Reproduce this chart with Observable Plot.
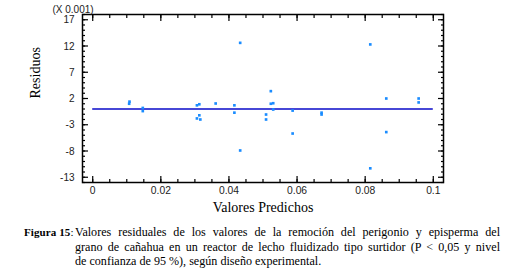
<!DOCTYPE html>
<html>
<head>
<meta charset="utf-8">
<script src="https://cdn.jsdelivr.net/npm/d3@7"></script>
<script src="https://cdn.jsdelivr.net/npm/@observablehq/plot@0.6"></script>
<style>
  body { margin: 0; background: #fff; }
  #wrap { width: 515px; position: relative; }
  .cap { font-family: "Liberation Serif", "Times New Roman", Times, serif; font-size: 12.1px; line-height: 14.6px; color: #000; position: relative; height: 54px; }
  .cap .lab { position: absolute; left: 24px; top: 7px; font-size: 11px; letter-spacing: 0.1px; }
  .cap .txt { position: absolute; left: 75px; top: 7px; width: 425px; }
  .cap .j { text-align: justify; text-align-last: justify; white-space: nowrap; }
  .cap .l { text-align: left; white-space: nowrap; }
</style>
</head>
<body>
<div id="wrap"></div>
<script>
// Predicted values (x) and residuals (y, in units of 0.001)
const predichos = [0.0107, 0.0108, 0.0147, 0.0147, 0.0306, 0.0313, 0.0313, 0.0306, 0.0316, 0.0361,
                   0.0416, 0.0416, 0.0433, 0.0433, 0.0509, 0.0509, 0.0523, 0.0523, 0.0530, 0.0530,
                   0.0587, 0.0587, 0.0672, 0.0672, 0.0815, 0.0815, 0.0862, 0.0862, 0.0957, 0.0957];
const residuos  = [1.0, 1.4, 0.2, -0.4, 0.7, 0.9, -1.2, -1.8, -2.0, 1.05,
                   0.7, -0.7, 12.6, -7.9, -1.05, -2.0, 3.4, 1.0, 1.1, -0.1,
                   -0.3, -4.67, -0.7, -1.05, 12.3, -11.3, 2.0, -4.4, 2.0, 1.25];
const xTicks = [0, 0.02, 0.04, 0.06, 0.08, 0.1];
const yTicks = [-13, -8, -3, 2, 7, 12, 17];
const xDomain = [-0.003, 0.103];
const yDomain = [-14, 18];
const xMinor = d3.range(0, 0.1001, 0.005);
const yMinor = d3.range(-14, 18.01, 1);

const data = predichos.map((x, i) => ({x, y: residuos[i]}));
const sans = "Liberation Sans, Arial, sans-serif";
const serif = "Liberation Serif, Times New Roman, serif";

const chart = Plot.plot({
  width: 515,
  height: 218,
  marginLeft: 82,
  marginRight: 72,
  marginTop: 14,
  marginBottom: 36,
  style: {fontFamily: sans, fontSize: "10px", color: "#222", background: "#fff"},
  x: {domain: xDomain, axis: null},
  y: {domain: yDomain, axis: null},
  marks: [
    // tick labels
    Plot.axisX(xTicks, {anchor: "bottom", tickSize: 0, tickPadding: 4, tickFormat: d => String(d), label: null, fontSize: 10.3, fill: "#222"}),
    Plot.axisY(yTicks, {anchor: "left", tickSize: 0, tickPadding: 8, tickFormat: d => String(d), label: null, fontSize: 10, fill: "#222", dy: 0.5}),
    // inward minor ticks
    Plot.axisX(xMinor, {anchor: "bottom", tickSize: -3, tickFormat: () => "", label: null, stroke: "#000", strokeWidth: 1.2}),
    Plot.axisX(xMinor, {anchor: "top", tickSize: -3, tickFormat: () => "", label: null, stroke: "#000", strokeWidth: 1.2}),
    Plot.axisY(yMinor, {anchor: "left", tickSize: -3, tickFormat: () => "", label: null, stroke: "#000", strokeWidth: 1.2}),
    Plot.axisY(yMinor, {anchor: "right", tickSize: -3, tickFormat: () => "", label: null, stroke: "#000", strokeWidth: 1.2}),
    // inward major ticks
    Plot.axisX(xTicks, {anchor: "bottom", tickSize: -6, tickFormat: () => "", label: null, stroke: "#000", strokeWidth: 1.2}),
    Plot.axisX(xTicks, {anchor: "top", tickSize: -6, tickFormat: () => "", label: null, stroke: "#000", strokeWidth: 1.2}),
    Plot.axisY(yTicks, {anchor: "left", tickSize: -6, tickFormat: () => "", label: null, stroke: "#000", strokeWidth: 1.2}),
    Plot.axisY(yTicks, {anchor: "right", tickSize: -6, tickFormat: () => "", label: null, stroke: "#000", strokeWidth: 1.2}),
    Plot.frame({stroke: "#000", strokeWidth: 1.5}),
    // zero reference line
    Plot.ruleY([0], {x1: xTicks[0], x2: xTicks[xTicks.length - 1], stroke: "#0a0ac8", strokeWidth: 1.5}),
    // residual points
    Plot.dot(data, {x: "x", y: "y", symbol: "square", r: 1.5, fill: "#1a8cff", stroke: null}),
    // axis titles
    Plot.text(["Residuos"], {frameAnchor: "left", dx: -47, rotate: -90, fontFamily: serif, fontSize: 14, fill: "#000"}),
    Plot.text(["Valores Predichos"], {frameAnchor: "bottom", dy: 29, fontFamily: serif, fontSize: 14, fill: "#000"}),
    Plot.text(["(X 0.001)"], {frameAnchor: "top-left", dx: -30, dy: -9, fontSize: 10, fill: "#222"})
  ]
});
document.getElementById("wrap").appendChild(chart);

const cap = document.createElement("div");
cap.className = "cap";
cap.innerHTML = `<div class="lab"><b>Figura 15</b>:</div>
<div class="txt">
<div class="j">Valores residuales de los valores de la remoción del perigonio y episperma del</div>
<div class="j">grano de cañahua en un reactor de lecho fluidizado tipo surtidor (P &lt; 0,05 y nivel</div>
<div class="l">de confianza de 95 %), según diseño experimental.</div>
</div>`;
document.getElementById("wrap").appendChild(cap);
</script>
</body>
</html>
